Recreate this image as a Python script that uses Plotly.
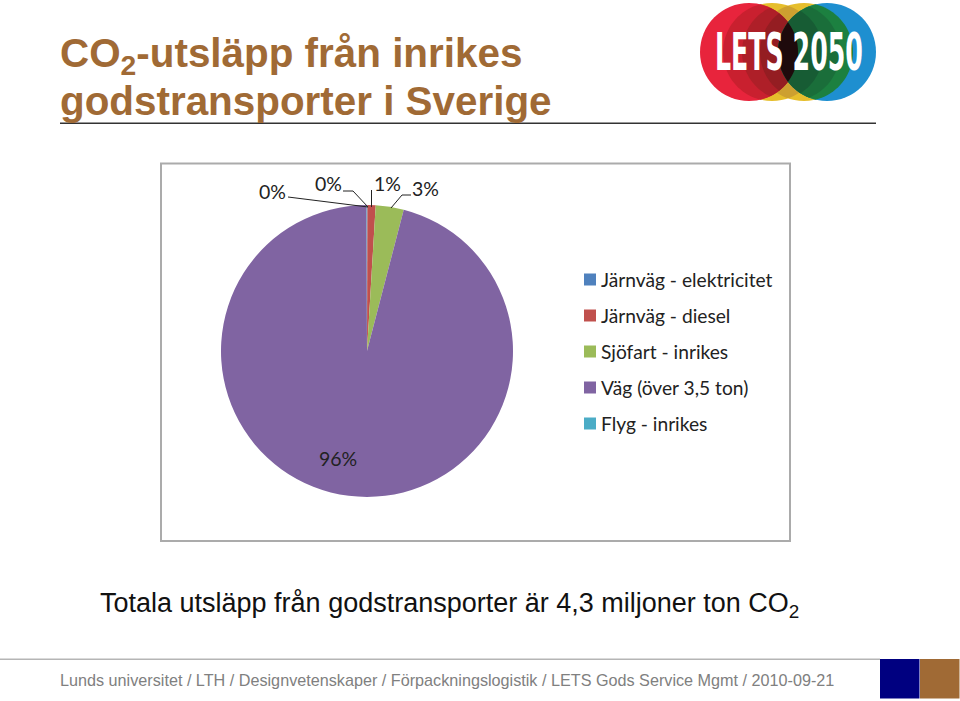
import math
import plotly.graph_objects as go

W = 960
H = 701

categories = ["Järnväg - elektricitet", "Järnväg - diesel", "Sjöfart - inrikes", "Väg (över 3,5 ton)", "Flyg - inrikes"]
shares = [0.05, 0.9, 3.1, 95.9, 0.05]
share_labels = ["0%", "0%", "1%", "3%", "96%"]
colors = ["#4F81BD", "#C0504D", "#9BBB59", "#8064A2", "#4BACC6"]


def px(x):
    return x / W


def py(y):
    return 1 - y / H


def rect(x0, y0, x1, y1, fill=None, line=None, width=0):
    return dict(type="rect", xref="paper", yref="paper", x0=px(x0), x1=px(x1), y0=py(y0), y1=py(y1),
                fillcolor=fill, line=dict(color=line, width=width), layer="below")


def circle(cx, cy, r, fill):
    return dict(type="circle", xref="paper", yref="paper", x0=px(cx - r), x1=px(cx + r), y0=py(cy - r), y1=py(cy + r),
                fillcolor=fill, line=dict(width=0), layer="below")


def poly(pts, fill=None, color=None, width=0, layer="below", close=True):
    d = "M" + " L".join(f"{px(x)},{py(y)}" for x, y in pts) + (" Z" if close else "")
    return dict(type="path", xref="paper", yref="paper", path=d, fillcolor=fill,
                line=dict(color=color, width=width), layer=layer)


def lens(c1, c2, fill, cy=52, r=49):
    # overlap of two equal circles, left circle c1, right circle c2
    a = math.acos((c2 - c1) / 2 / r)
    pts = []
    for i in range(41):
        t = -a + 2 * a * i / 40
        pts.append((c1 + r * math.cos(t), cy + r * math.sin(t)))
    for i in range(41):
        t = math.pi - a + 2 * a * i / 40
        pts.append((c2 + r * math.cos(t), cy + r * math.sin(t)))
    return poly(pts, fill=fill)


def leader(pts):
    return poly(pts, color="#222222", width=1, layer="above", close=False)


def text(x, y, s, size, color, font="Liberation Sans", anchor="left"):
    return dict(xref="paper", yref="paper", x=px(x), y=py(y), text=s, showarrow=False, xanchor=anchor, yanchor="middle",
                font=dict(family=font, size=size, color=color))


fig = go.Figure(go.Pie(labels=categories, values=shares, marker=dict(colors=colors, line=dict(width=0)),
                       sort=False, direction="clockwise", rotation=0, textinfo="none", hoverinfo="label+percent",
                       showlegend=False,
                       domain=dict(x=[px(221), px(513)], y=[py(497), py(205)])))

shapes = [rect(161, 163.5, 790, 541, line="#ABABAB", width=2),
          rect(60, 122.5, 876, 124, fill="#333333"),
          rect(0, 658.5, 880, 660, fill="#B5B5B5"),
          rect(880, 659, 919.5, 698.5, fill="#000080"),
          rect(920, 659, 959.5, 698.5, fill="#A06A35")]

# logo, overlapping rings
shapes += [circle(772, 52, 49, "#E6BE2C"), circle(804, 52, 49, "#E6BE2C"), lens(772, 804, "#CDA030"),
           circle(749, 52, 49, "#E8243C"), circle(827, 52, 49, "#1E8FD0"),
           lens(749, 772, "#C9202F"), lens(749, 791, "#AE1F28"), lens(749, 809, "#941D22"),
           lens(804, 827, "#1C8040"), lens(791, 827, "#1A6E3A"), lens(774, 827, "#175C34"),
           lens(749, 827, "#1E0A0C")]

# leader lines
shapes += [leader([(288, 197), (368, 207)]),
           leader([(343, 191), (353, 191), (368, 207)]),
           leader([(371.5, 190), (371.5, 207)]),
           leader([(411, 195), (402, 195), (391, 208)])]

annotations = [text(58, 55, "<b>CO<sub>2</sub>-utsläpp från inrikes</b>", 40.4, "#A06A35"),
               text(58, 101, "<b>godstransporter i Sverige</b>", 40.4, "#A06A35"),
               text(98, 605, "Totala utsläpp från godstransporter är 4,3 miljoner ton CO<sub>2</sub>", 27, "#111111"),
               text(58, 680, "Lunds universitet / LTH / Designvetenskaper / Förpackningslogistik / LETS Gods Service Mgmt / 2010-09-21", 16.2, "#808080"),
               text(789, 52, "<b>LETS 2050</b>", 52, "#FFFFFF", "DejaVu Sans Condensed", "center")]

label_pos = [(272, 191), (328, 184), (387, 183), (425, 188), (338, 459)]
for (x, y), s in zip(label_pos, share_labels):
    annotations.append(text(x, y, s, 19.5, "#222222", "Lato", "center"))

# legend drawn by hand, the spacing is wider than plotly allows
for i, (c, name) in enumerate(zip(colors, categories)):
    y = 279.5 + i * 36
    shapes.append(rect(584, y - 6, 596, y + 6, fill=c))
    annotations.append(text(598.5, y, name, 19.2, "#222222", "Lato"))

fig.update_layout(width=W, height=H, margin=dict(l=0, r=0, t=0, b=0), paper_bgcolor="white",
                  shapes=shapes, annotations=annotations)

# no condensed bold font is installed, so squeeze the logo text sideways
squeeze = """
document.body.style.margin = '0';
document.querySelectorAll('.annotation-text').forEach(function (el) {
  if (el.textContent.indexOf('LETS') === 0) {
    var b = el.getBBox();
    var cx = b.x + b.width / 2;
    el.setAttribute('transform', 'translate(' + cx + ',0) scale(0.54,1) translate(' + (-cx) + ',0)');
  }
});
"""
fig.write_html("out.html", post_script=squeeze, config=dict(displayModeBar=False))
